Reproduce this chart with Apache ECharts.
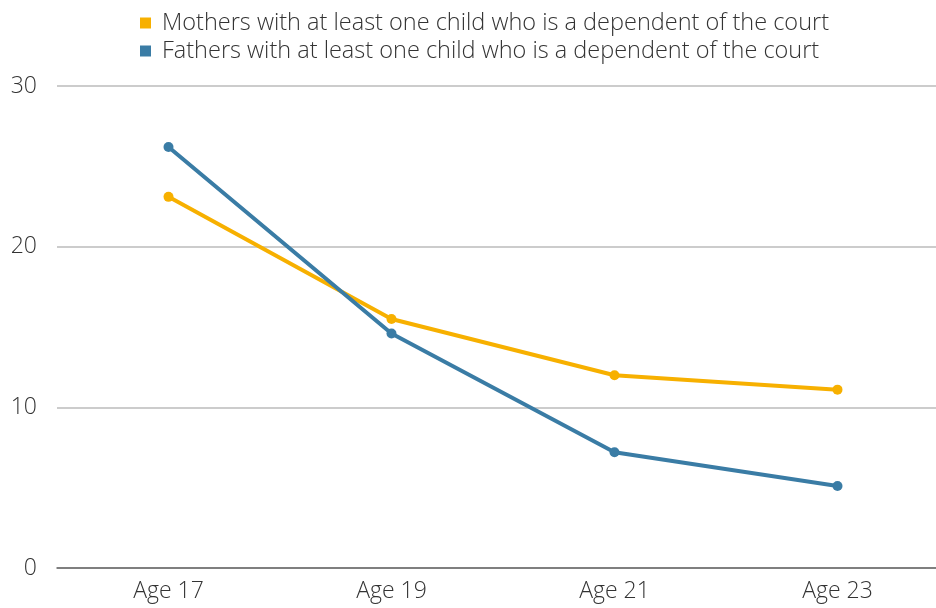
<!DOCTYPE html>
<html><head><meta charset="utf-8">
<script src="https://cdn.jsdelivr.net/npm/echarts@6/dist/echarts.min.js"></script>
<style>html,body{margin:0;padding:0;background:#fff}#c{width:936px;height:608px}</style>
</head><body><div id="c"></div>
<script>
const categories = ['Age 17', 'Age 19', 'Age 21', 'Age 23'];
const mothers = [23.1, 15.5, 12.0, 11.1];
const fathers = [26.2, 14.6, 7.2, 5.1];
const seriesNames = ['Mothers with at least one child who is a dependent of the court', 'Fathers with at least one child who is a dependent of the court'];
const colors = ['#f7b000', '#3a7ca5'];
const font = '"Open Sans", sans-serif';
const chart = echarts.init(document.getElementById('c'), null, {renderer: 'canvas'});
chart.setOption({
  animation: false,
  color: colors,
  textStyle: {fontFamily: font},
  legend: {
    orient: 'vertical', left: 135, top: 6, itemGap: 4,
    itemWidth: 11, itemHeight: 11, icon: 'rect',
    textStyle: {fontSize: 23.5, fontWeight: 300, color: '#333', fontFamily: font, padding: [0,0,0,6]},
    data: seriesNames
  },
  grid: {left: 57, width: 892, top: 86, bottom: 40, containLabel: false, outerBoundsMode: 'none'},
  xAxis: {
    type: 'category', data: categories, boundaryGap: true,
    axisLine: {lineStyle: {color: '#666', width: 1.5}},
    axisTick: {show: false},
    axisLabel: {fontSize: 23, fontWeight: 300, color: '#333', margin: 12, fontFamily: font}
  },
  yAxis: {
    type: 'value', min: 0, max: 30, interval: 10,
    axisLine: {show: false}, axisTick: {show: false},
    splitLine: {lineStyle: {color: '#bbb', width: 1.5}},
    axisLabel: {fontSize: 23, fontWeight: 300, color: '#333', margin: 20, fontFamily: font}
  },
  series: [
    {name: seriesNames[0], type: 'line', data: mothers, symbol: 'circle', symbolSize: 10, lineStyle: {width: 4}, z: 2},
    {name: seriesNames[1], type: 'line', data: fathers, symbol: 'circle', symbolSize: 10, lineStyle: {width: 4}, z: 3}
  ]
});
</script></body></html>
